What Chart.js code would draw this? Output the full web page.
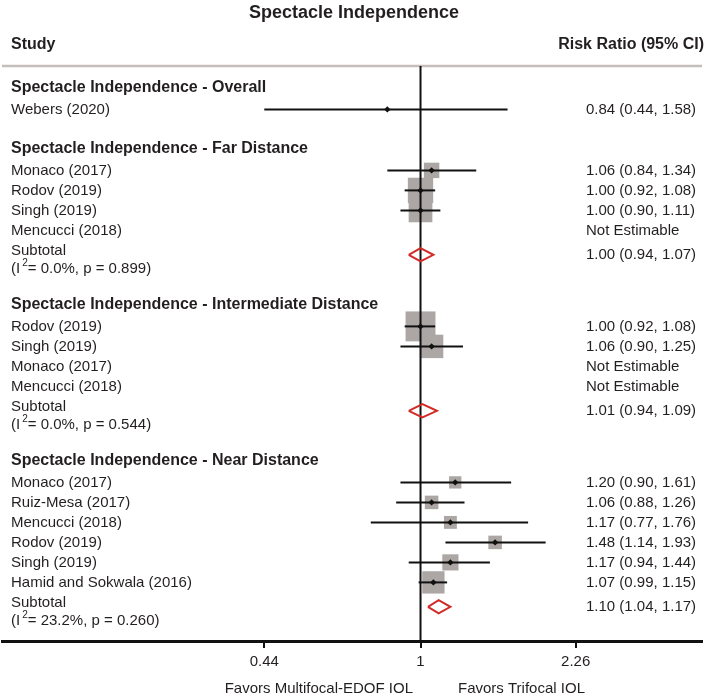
<!DOCTYPE html>
<html lang="en">
<head>
<meta charset="UTF-8" />
<title>Spectacle Independence</title>
<script src="https://cdn.jsdelivr.net/npm/chart.js"></script>
<style>
  html, body { margin: 0; padding: 0; background: #fff; }
  #wrap { width: 708px; height: 698px; position: relative; }
</style>
</head>
<body>
<div id="wrap"><canvas id="forest"></canvas></div>
<script>
// ---- data ----
const groupNames = [
  "Spectacle Independence - Overall",
  "Spectacle Independence - Far Distance",
  "Spectacle Independence - Intermediate Distance",
  "Spectacle Independence - Near Distance"
];
const studyNames = [
  "Webers (2020)",
  "Monaco (2017)", "Rodov (2019)", "Singh (2019)", "Mencucci (2018)",
  "Rodov (2019)", "Singh (2019)", "Monaco (2017)", "Mencucci (2018)",
  "Monaco (2017)", "Ruiz-Mesa (2017)", "Mencucci (2018)", "Rodov (2019)", "Singh (2019)", "Hamid and Sokwala (2016)"
];
const studyGroup = [0, 1, 1, 1, 1, 2, 2, 2, 2, 3, 3, 3, 3, 3, 3];
const riskRatio = [0.84, 1.06, 1.00, 1.00, null, 1.00, 1.06, null, null, 1.20, 1.06, 1.17, 1.48, 1.17, 1.07];
const ciLow     = [0.44, 0.84, 0.92, 0.90, null, 0.92, 0.90, null, null, 0.90, 0.88, 0.77, 1.14, 0.94, 0.99];
const ciHigh    = [1.58, 1.34, 1.08, 1.11, null, 1.08, 1.25, null, null, 1.61, 1.26, 1.76, 1.93, 1.44, 1.15];
const weights   = [null, 16.5, 44.5, 39.0, null, 62.0, 38.0, null, null, 10.5, 12.7, 11.5, 12.7, 18.1, 34.5];

const subtotalRR   = [null, 1.00, 1.01, 1.10];
const subtotalLow  = [null, 0.94, 0.94, 1.04];
const subtotalHigh = [null, 1.07, 1.09, 1.17];
const i2Values     = [null, "0.0%", "0.0%", "23.2%"];
const pValues      = [null, "0.899", "0.544", "0.260"];

const tickValues = [0.44, 1, 2.26];
const tickLabels = ["0.44", "1", "2.26"];

// ---- layout (row positions in y units, 20px each) ----
const ink = "#231f20";
const fontFam = '"Liberation Sans", Arial, sans-serif';
const boxScale = 3.8;

const studyY = [];
const headerY = [], subLabelY = [], diamondY = [], hetY = [];
let cur = 1.07;
groupNames.forEach((g, gi) => {
  headerY[gi] = cur;
  cur += 1.1;
  studyGroup.forEach((sg, i) => {
    if (sg === gi) { studyY[i] = cur; cur += 1; }
  });
  if (subtotalRR[gi] !== null) {
    subLabelY[gi] = cur;
    diamondY[gi] = cur + 0.22;
    hetY[gi] = cur + 0.9;
    cur += 2.7;
  } else {
    cur += 0.95;
  }
});

const fmt = v => v.toFixed(2);
const ciText = (r, l, h) => r === null ? "Not Estimable" : `${fmt(r)} (${fmt(l)}, ${fmt(h)})`;

// ---- datasets ----
const datasets = [];

// weight boxes
datasets.push({
  data: studyNames.map((n, i) => ({ x: riskRatio[i], y: studyY[i], w: weights[i] }))
    .filter(p => p.x !== null && p.w !== null),
  pointStyle: "rect",
  pointRadius: ctx => boxScale * Math.sqrt(ctx.raw.w) / Math.SQRT2,
  backgroundColor: "#aca6a5",
  borderWidth: 0,
  order: 5
});

// null line
datasets.push({
  data: [{ x: 1, y: 0 }, { x: 1, y: 28.75 }],
  showLine: true,
  borderColor: "#111",
  borderWidth: 2,
  pointRadius: 0,
  order: 4
});

// confidence intervals
studyNames.forEach((n, i) => {
  if (riskRatio[i] === null) return;
  datasets.push({
    data: [{ x: ciLow[i], y: studyY[i] }, { x: ciHigh[i], y: studyY[i] }],
    showLine: true,
    borderColor: "#111",
    borderWidth: 2,
    pointRadius: 0,
    order: 3
  });
});

// subtotal diamonds
subtotalRR.forEach((r, gi) => {
  if (r === null) return;
  const yy = diamondY[gi];
  datasets.push({
    data: [
      { x: subtotalLow[gi], y: yy },
      { x: r, y: yy - 0.33 },
      { x: subtotalHigh[gi], y: yy },
      { x: r, y: yy + 0.33 },
      { x: subtotalLow[gi], y: yy }
    ],
    showLine: true,
    borderColor: "#d22b27",
    borderWidth: 2,
    borderJoinStyle: "miter",
    pointRadius: 0,
    tension: 0,
    order: 2
  });
});

// point estimates
datasets.push({
  data: studyNames.map((n, i) => ({ x: riskRatio[i], y: studyY[i] })).filter(p => p.x !== null),
  pointStyle: "rectRot",
  pointRadius: 3.2,
  backgroundColor: "#111",
  borderWidth: 0,
  order: 1
});

// ---- text and frame ----
const textPlugin = {
  id: "forestText",
  beforeDatasetsDraw(chart) {
    const { ctx, chartArea } = chart;
    ctx.save();
    ctx.strokeStyle = "#c6bebb";
    ctx.lineWidth = 2.5;
    ctx.beginPath();
    ctx.moveTo(2, chartArea.top);
    ctx.lineTo(702, chartArea.top);
    ctx.stroke();
    ctx.restore();
  },
  afterDraw(chart) {
    const { ctx, scales: { y } } = chart;
    const py = v => y.getPixelForValue(v);
    ctx.save();
    ctx.fillStyle = ink;
    ctx.textBaseline = "middle";

    ctx.font = `bold 18px ${fontFam}`;
    ctx.textAlign = "center";
    ctx.fillText("Spectacle Independence", 354, 13);

    ctx.font = `bold 16px ${fontFam}`;
    ctx.textAlign = "left";
    ctx.fillText("Study", 11, 45);
    ctx.textAlign = "right";
    ctx.fillText("Risk Ratio (95% CI)", 704, 45);

    ctx.textAlign = "left";
    groupNames.forEach((g, gi) => {
      ctx.font = `bold 16px ${fontFam}`;
      ctx.fillText(g, 11, py(headerY[gi]));
      ctx.font = `15px ${fontFam}`;
      if (subtotalRR[gi] !== null) {
        ctx.fillText("Subtotal", 11, py(subLabelY[gi]));
        ctx.fillText(ciText(subtotalRR[gi], subtotalLow[gi], subtotalHigh[gi]), 586, py(diamondY[gi]));
        // heterogeneity line with superscript 2
        const hy = py(hetY[gi]);
        let xx = 11;
        ctx.fillText("(I", xx, hy);
        xx += ctx.measureText("(I").width + 2;
        ctx.font = `10px ${fontFam}`;
        ctx.fillText("2", xx, hy - 5);
        xx += ctx.measureText("2").width;
        ctx.font = `15px ${fontFam}`;
        ctx.fillText(`= ${i2Values[gi]}, p = ${pValues[gi]})`, xx, hy);
      }
    });

    ctx.font = `15px ${fontFam}`;
    studyNames.forEach((n, i) => {
      ctx.fillText(n, 11, py(studyY[i]));
      ctx.fillText(ciText(riskRatio[i], ciLow[i], ciHigh[i]), 586, py(studyY[i]));
    });

    ctx.textAlign = "right";
    ctx.fillText("Favors Multifocal-EDOF IOL", 413, 689);
    ctx.textAlign = "left";
    ctx.fillText("Favors Trifocal IOL", 458, 689);
    ctx.restore();
  }
};

Chart.defaults.font.family = fontFam;

new Chart(document.getElementById("forest"), {
  type: "scatter",
  data: { datasets },
  options: {
    responsive: true,
    maintainAspectRatio: false,
    animation: false,
    events: [],
    layout: { autoPadding: false, padding: { top: 66, left: 2, right: 6, bottom: 0 } },
    plugins: { legend: { display: false }, tooltip: { enabled: false } },
    scales: {
      x: {
        type: "logarithmic",
        min: 0.1109,
        max: 4.389,
        afterBuildTicks: s => { s.ticks = tickValues.map(v => ({ value: v })); },
        afterFit: s => { s.height = 57; },
        ticks: {
          autoSkip: false,
          maxRotation: 0,
          padding: 5,
          color: ink,
          font: { size: 15 },
          callback: (v, i) => tickLabels[i]
        },
        grid: { drawOnChartArea: false, drawTicks: true, tickLength: 7, color: "#111", lineWidth: 2 },
        border: { display: true, color: "#111", width: 3 }
      },
      y: {
        type: "linear",
        reverse: true,
        min: 0,
        max: 28.75,
        display: false
      }
    }
  },
  plugins: [textPlugin]
});
</script>
</body>
</html>
